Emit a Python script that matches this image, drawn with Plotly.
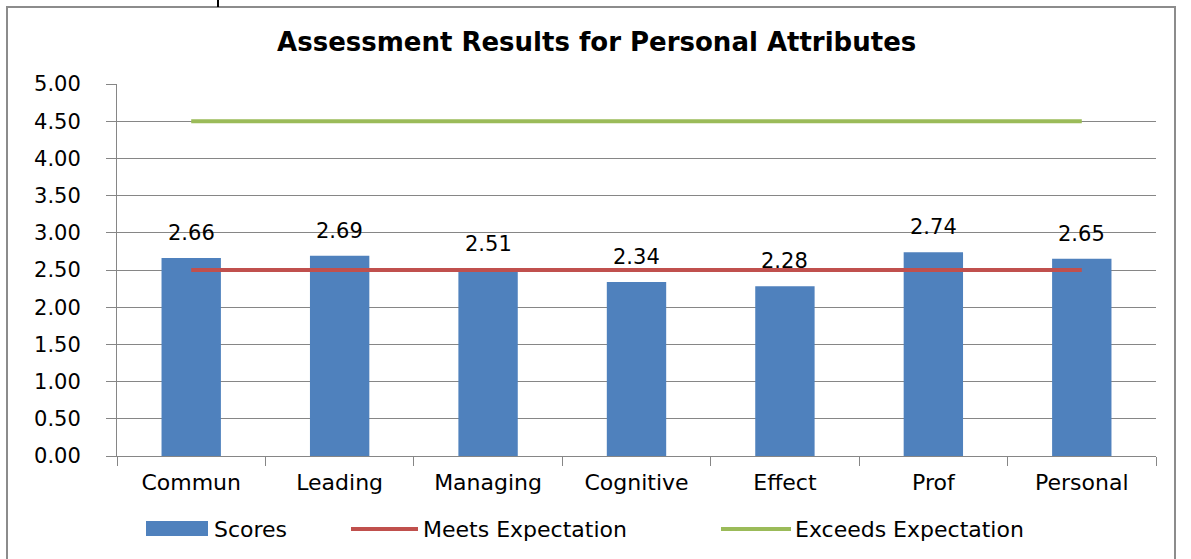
import plotly.graph_objects as go

categories = ["Commun", "Leading", "Managing", "Cognitive", "Effect", "Prof", "Personal"]
scores = [2.66, 2.69, 2.51, 2.34, 2.28, 2.74, 2.65]
meets = [2.5, 2.5, 2.5, 2.5, 2.5, 2.5, 2.5]
exceeds = [4.5, 4.5, 4.5, 4.5, 4.5, 4.5, 4.5]

W, H = 1191, 559
L, R, T, B = 117, 35, 84, 103
FONT = "DejaVu Sans"
BLUE, RED, GREEN = "#4F81BD", "#C0504D", "#9BBB59"


def px(x):
    return (x - L) / (W - L - R)


def py(y):
    return (H - B - y) / (H - T - B)


fig = go.Figure()
fig.add_trace(go.Bar(x=categories, y=scores, name="Scores", marker_color=BLUE,
                     marker_line_width=0, width=0.4))
fig.add_trace(go.Scatter(x=categories, y=meets, name="Meets Expectation", mode="lines",
                         line=dict(color=RED, width=4)))
fig.add_trace(go.Scatter(x=categories, y=exceeds, name="Exceeds Expectation", mode="lines",
                         line=dict(color=GREEN, width=4)))

# data labels above the bars
for c, s in zip(categories, scores):
    fig.add_annotation(x=c, y=s, text=f"{s:.2f}", showarrow=False, yanchor="bottom",
                       yshift=11, font=dict(family=FONT, size=21, color="#000"))

# hand-made legend to get Excel-like swatches
legend_y = py(529)
shapes = [
    dict(type="rect", xref="paper", yref="paper", x0=px(7), x1=px(1175), y0=py(7), y1=py(562),
         line=dict(color="#8c8c8c", width=2), fillcolor="rgba(0,0,0,0)", layer="below"),
    dict(type="line", xref="paper", yref="paper", x0=px(218), x1=px(218), y0=py(0), y1=py(7),
         line=dict(color="#000", width=2)),
    dict(type="rect", xref="paper", yref="paper", x0=px(146), x1=px(208), y0=py(536), y1=py(521),
         fillcolor=BLUE, line_width=0),
    dict(type="line", xref="paper", yref="paper", x0=px(351), x1=px(418), y0=legend_y, y1=legend_y,
         line=dict(color=RED, width=4)),
    dict(type="line", xref="paper", yref="paper", x0=px(721), x1=px(791), y0=legend_y, y1=legend_y,
         line=dict(color=GREEN, width=4)),
]
for label, x0 in [("Scores", 212), ("Meets Expectation", 421), ("Exceeds Expectation", 793)]:
    fig.add_annotation(xref="paper", yref="paper", x=px(x0), y=legend_y, text=label,
                       showarrow=False, xanchor="left", yanchor="middle",
                       font=dict(family=FONT, size=22, color="#000"))

fig.update_layout(
    width=W, height=H,
    margin=dict(l=L, r=R, t=T, b=B),
    paper_bgcolor="white", plot_bgcolor="white",
    showlegend=False,
    shapes=shapes,
    font=dict(family=FONT, size=21, color="#000"),
    title=dict(text="<b>Assessment Results for Personal Attributes</b>", x=0.501, xref="container",
               y=1 - 42 / H, yref="container", xanchor="center", yanchor="middle",
               font=dict(family=FONT, size=26, color="#000")),
    xaxis=dict(showline=True, linecolor="#868686", linewidth=1, ticks="outside", ticklen=9,
               tickcolor="#868686", tickson="boundaries", showgrid=False,
               ticklabelstandoff=7, tickfont=dict(family=FONT, size=22)),
    yaxis=dict(range=[0, 5], dtick=0.5, tickformat=".2f", showline=True, linecolor="#868686",
               linewidth=1, ticks="outside", ticklen=10, tickcolor="#868686",
               gridcolor="#868686", gridwidth=1, zeroline=False,
               ticklabelstandoff=21, tickfont=dict(family=FONT, size=21)),
    bargap=0.6,
)

# drop the browser's default body margin and scrollbars so the figure fills the window
page_css = ("document.documentElement.style.overflow='hidden';"
            "document.body.style.overflow='hidden';document.body.style.margin='0';")
fig.write_html("out.html", config={"displayModeBar": False}, post_script=page_css)
